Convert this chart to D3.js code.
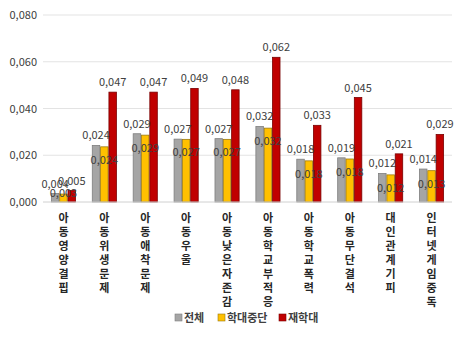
<!DOCTYPE html>
<html>
<head>
<meta charset="utf-8">
<script src="https://cdn.jsdelivr.net/npm/d3@7"></script>
<style>
  body { margin: 0; background: #fff; }
  text { font-family: "Noto Sans CJK KR", "Noto Sans", sans-serif; }
</style>
</head>
<body>
<svg id="chart" width="463" height="337"></svg>
<script>
// categories and series
var categories = ["아동영양결핍", "아동위생문제", "아동애착문제", "아동우울", "아동낮은자존감",
    "아동학교부적응", "아동학교폭력", "아동무단결석", "대인관계기피", "인터넷게임중독"];
var seriesNames = ["전체", "학대중단", "재학대"];
var total = [0.0036, 0.0242, 0.0292, 0.0269, 0.0271, 0.0323, 0.0183, 0.0189, 0.0122, 0.0141];
var stopped = [0.0034, 0.0236, 0.0286, 0.0268, 0.0268, 0.0316, 0.0176, 0.0184, 0.0116, 0.0134];
var reabuse = [0.0049, 0.0470, 0.0470, 0.0486, 0.0480, 0.0619, 0.0328, 0.0447, 0.0206, 0.0289];
var yTicks = [0, 0.02, 0.04, 0.06, 0.08];
var colors = ["#a5a5a5", "#ffc000", "#c00000"];
var strokes = ["#7f7f7f", "#9c7a10", "#7a0000"];

var svg = d3.select("#chart"),
    margin = {top: 15, right: 11, bottom: 135, left: 43},
    width = +svg.attr("width") - margin.left - margin.right,
    height = +svg.attr("height") - margin.top - margin.bottom,
    g = svg.append("g").attr("transform", "translate(" + margin.left + "," + margin.top + ")");

var fmt = d3.formatLocale({decimal: ",", thousands: ".", grouping: [3], currency: ["", ""]}).format(".3f");

var x = d3.scaleBand().domain(categories).range([0, width]).paddingInner(0.41).paddingOuter(0.205);
var x1 = d3.scaleBand().domain(seriesNames).range([0, x.bandwidth()]).paddingInner(0.1);
var y = d3.scaleLinear().domain([0, 0.08]).range([height, 0]);

// gridlines
g.selectAll(".grid")
    .data(yTicks.slice(1))
    .enter().append("line")
    .attr("x1", 0).attr("x2", width)
    .attr("y1", function (d) { return y(d); })
    .attr("y2", function (d) { return y(d); })
    .attr("stroke", "#e3e3e3").attr("stroke-width", 1);

// y axis
var yAxis = g.append("g")
    .call(d3.axisLeft(y).tickValues(yTicks).tickFormat(fmt).tickSize(0).tickPadding(6));
yAxis.select(".domain").remove();
yAxis.selectAll("text").attr("fill", "#404040").style("font-size", "11px");

var data = categories.map(function (c, i) {
    return {cat: c, vals: [total[i], stopped[i], reabuse[i]]};
});

var group = g.selectAll(".cat")
    .data(data)
    .enter().append("g")
    .attr("class", "cat")
    .attr("transform", function (d) { return "translate(" + x(d.cat) + ",0)"; });

group.selectAll("rect")
    .data(function (d) { return d.vals.map(function (v, k) { return {s: seriesNames[k], k: k, v: v}; }); })
    .enter().append("rect")
    .attr("x", function (d) { return x1(d.s); })
    .attr("y", function (d) { return y(d.v); })
    .attr("width", x1.bandwidth())
    .attr("height", function (d) { return height - y(d.v); })
    .attr("fill", function (d) { return colors[d.k]; })
    .attr("stroke", function (d) { return strokes[d.k]; })
    .attr("stroke-width", 0.8);

// value labels: gray & red above the bar, yellow inside below the top
group.selectAll(".lbl")
    .data(function (d) { return d.vals.map(function (v, k) { return {s: seriesNames[k], k: k, v: v}; }); })
    .enter().append("text")
    .attr("class", "lbl")
    .attr("x", function (d) { return x1(d.s) + x1.bandwidth() / 2; })
    .attr("y", function (d) { return d.k === 1 ? Math.min(y(d.v) + 17, height - 5) : y(d.v) - 6; })
    .attr("text-anchor", "middle")
    .attr("fill", "#404040")
    .style("font-size", "11px")
    .text(function (d) { return fmt(d.v); });

// baseline
g.append("line")
    .attr("x1", 0).attr("x2", width)
    .attr("y1", height).attr("y2", height)
    .attr("stroke", "#d0d0d0");

// vertical category labels
group.append("text")
    .attr("text-anchor", "middle")
    .attr("fill", "#262626")
    .style("font-size", "11px")
    .style("font-weight", "bold")
    .selectAll("tspan")
    .data(function (d) { return d.cat.split(""); })
    .enter().append("tspan")
    .attr("x", x.bandwidth() / 2)
    .attr("y", function (d, i) { return height + 20 + i * 14; })
    .text(function (d) { return d; });

// legend
var legendX = [175, 218, 279];
var legend = svg.selectAll(".legend")
    .data(seriesNames)
    .enter().append("g")
    .attr("transform", function (d, i) { return "translate(" + legendX[i] + ",318)"; });
legend.append("rect")
    .attr("x", 0).attr("y", -4).attr("width", 7).attr("height", 7)
    .attr("fill", function (d, i) { return colors[i]; })
    .attr("stroke", function (d, i) { return strokes[i]; })
    .attr("stroke-width", 0.6);
legend.append("text")
    .attr("x", 9).attr("y", 4)
    .attr("fill", "#404040")
    .style("font-size", "11px")
    .style("font-weight", "bold")
    .text(function (d) { return d; });
</script>
</body>
</html>
